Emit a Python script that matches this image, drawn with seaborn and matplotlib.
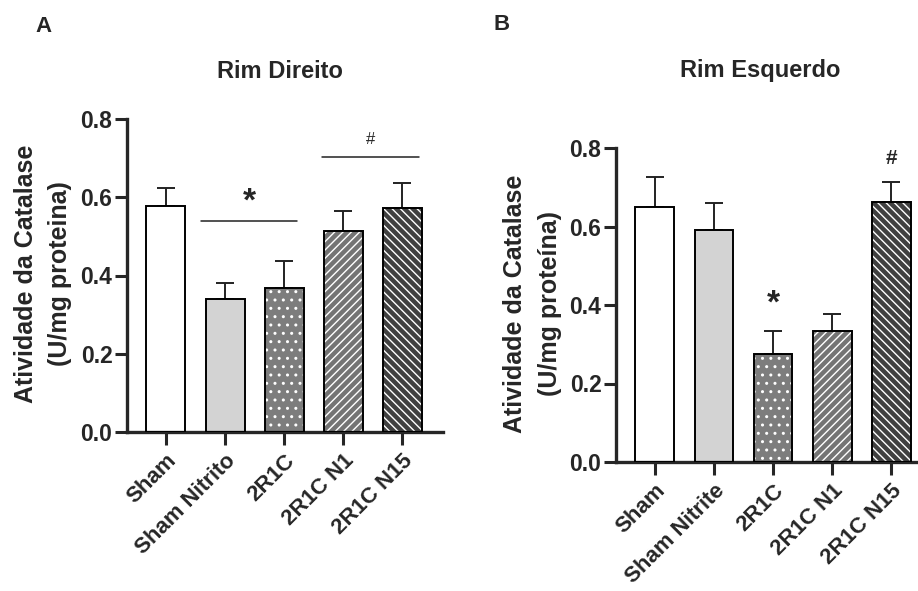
import matplotlib
matplotlib.use('Agg')
import matplotlib.pyplot as plt
import seaborn as sns
import pandas as pd
from matplotlib.patches import Rectangle

# ---- data ----
cats_a = ['Sham', 'Sham Nitrito', '2R1C', '2R1C N1', '2R1C N15']
vals_a = [0.578, 0.340, 0.368, 0.514, 0.573]
sem_a = [0.046, 0.041, 0.069, 0.051, 0.063]

cats_b = ['Sham', 'Sham Nitrite', '2R1C', '2R1C N1', '2R1C N15']
vals_b = [0.650, 0.591, 0.275, 0.334, 0.662]
sem_b = [0.076, 0.069, 0.059, 0.043, 0.051]

yticks = [0.0, 0.2, 0.4, 0.6, 0.8]

# ---- style ----
faces = ['#ffffff', '#d3d3d3', '#7d7d7d', '#747474', '#404040']
hatches = ['', '', '..', '////', '\\\\\\\\']

sns.set_style('ticks')
plt.rcParams['font.family'] = ['Liberation Sans', 'DejaVu Sans']
plt.rcParams['font.weight'] = 'bold'
plt.rcParams['hatch.linewidth'] = 1.0

W, H = 918, 591
fig = plt.figure(figsize=(W / 100, H / 100), dpi=100)

def px_axes(l, r, b, t):
    return fig.add_axes([l / W, (H - b) / H, (r - l) / W, (b - t) / H])

ax_a = px_axes(127, 443, 432, 119)
ax_b = px_axes(616, 920, 462, 148)


def draw(ax, cats, vals, sems, xmax):
    df = pd.DataFrame({'grupo': cats, 'valor': vals})
    sns.barplot(data=df, x='grupo', y='valor', hue='grupo', palette=faces,
                legend=False, ax=ax, width=0.66, errorbar=None,
                edgecolor='white', linewidth=0, zorder=2)
    for p, h in zip(ax.patches, hatches):
        p.set_hatch(h)
        p._hatch_color = (1, 1, 1, 1)
        ax.add_patch(Rectangle(p.get_xy(), p.get_width(), p.get_height(),
                               fill=False, edgecolor='black', linewidth=1.4,
                               zorder=3))
    xs = [p.get_x() + p.get_width() / 2 for p in ax.patches[:len(cats)]]
    ax.errorbar(xs, vals, yerr=[[0] * len(vals), sems], fmt='none',
                ecolor='#222222', elinewidth=1.4, capsize=6.8,
                capthick=1.4, zorder=1)
    ax.set_xlim(-0.66, xmax)
    ax.set_ylim(0, 0.8)
    ax.set_yticks(yticks)
    ax.set_yticklabels([f'{v:.1f}' for v in yticks], fontsize=16.5, fontweight='bold')
    ax.set_xticks(range(len(cats)))
    ax.set_xticklabels(cats, rotation=45, ha='right', rotation_mode='anchor',
                       fontsize=16, fontweight='bold')
    ax.set_xlabel('')
    ax.set_ylabel('')
    ax.tick_params(axis='y', length=9, width=2.2, pad=1.5)
    ax.tick_params(axis='x', length=9, width=2.2, pad=4)
    for s in ['left', 'bottom']:
        ax.spines[s].set_linewidth(2.4)
    sns.despine(ax=ax)
    return xs


xs_a = draw(ax_a, cats_a, vals_a, sem_a, 4.69)
xs_b = draw(ax_b, cats_b, vals_b, sem_b, 4.49)

# ---- titles, y labels, panel letters ----
tkw = dict(fontsize=17, fontweight='bold', ha='center', va='center')
fig.text(280 / W, 1 - 71 / H, 'Rim Direito', **tkw)
fig.text(760 / W, 1 - 71 / H, 'Rim Esquerdo', **tkw)

lkw = dict(fontsize=18, fontweight='bold', ha='center', va='center', rotation=90)
fig.text(26 / W, 1 - 274 / H, 'Atividade da Catalase', **lkw)
fig.text(60 / W, 1 - 274 / H, '(U/mg proteina)', **lkw)
fig.text(515 / W, 1 - 304 / H, 'Atividade da Catalase', **lkw)
fig.text(550 / W, 1 - 304 / H, '(U/mg proteína)', **lkw)

fig.text(43 / W, 1 - 26 / H, 'A', fontsize=16, fontweight='bold', ha='center', va='center')
fig.text(502 / W, 1 - 25 / H, 'B', fontsize=16, fontweight='bold', ha='center', va='center')

# ---- significance annotations ----
sig_a_star_y = 0.539
sig_a_hash_y = 0.703
ax_a.plot([xs_a[1] - 0.4, xs_a[2] + 0.22], [sig_a_star_y] * 2, color='#222222', lw=1.1)
ax_a.text((xs_a[1] + xs_a[2]) / 2 - 0.09, sig_a_star_y + 0.008, '*', ha='center',
          va='bottom', fontsize=24, fontweight='bold')
ax_a.plot([xs_a[3] - 0.36, xs_a[4] + 0.29], [sig_a_hash_y] * 2, color='#222222', lw=1.1)
ax_a.text((xs_a[3] + xs_a[4]) / 2 - 0.03, sig_a_hash_y + 0.025, '#', ha='center',
          va='bottom', fontsize=12, fontweight='normal')

ax_b.text(xs_b[2], vals_b[2] + sem_b[2] + 0.03, '*', ha='center', va='bottom',
          fontsize=24, fontweight='bold')
ax_b.text(xs_b[4], vals_b[4] + sem_b[4] + 0.035, '#', ha='center', va='bottom',
          fontsize=15, fontweight='bold')

fig.savefig('out.png', dpi=100)
